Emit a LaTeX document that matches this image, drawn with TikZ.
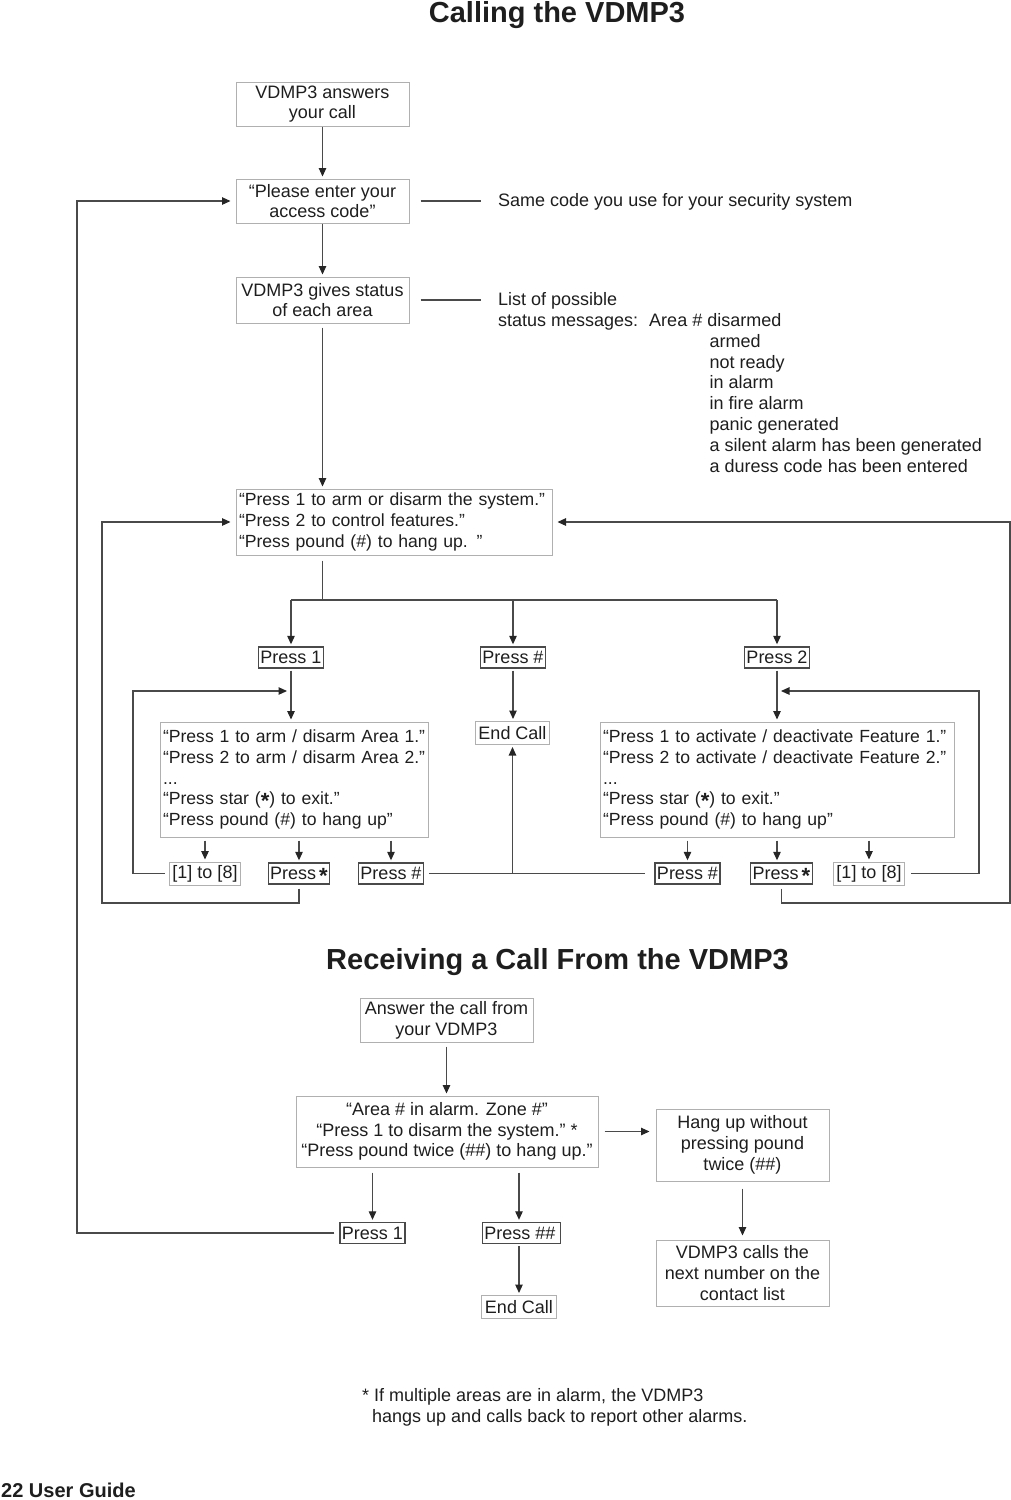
\documentclass[tikz,border=0pt]{standalone}
\usepackage{fontspec}
\setmainfont{Liberation Sans}
\usetikzlibrary{arrows.meta}
\definecolor{boxgray}{HTML}{B0B0B0}
\definecolor{linegray}{HTML}{4A4A4A}
\definecolor{txt}{HTML}{1E1E1E}
\newcommand{\keystar}{\smash{\raisebox{-4pt}{\fontsize{22}{22}\selectfont\bfseries *}}}
\newcommand{\menuline}[1]{\mbox{#1}}
\begin{document}
\begin{tikzpicture}[x=1pt,y=-1pt,
  every node/.style={text=txt, font=\fontsize{18}{20.8}\selectfont},
  txtnode/.style={inner sep=0pt, anchor=base west},
  bigbox/.style={draw=boxgray, line width=1pt, inner sep=0pt, align=center},
  menubox/.style={draw=boxgray, line width=1pt, inner xsep=3pt, inner ysep=0pt, align=left, font=\fontsize{17.6}{20.8}\selectfont},
  keybox/.style={draw=linegray, line width=1.4pt, inner xsep=2pt, inner ysep=0pt, minimum height=21pt},
  lightkey/.style={draw=boxgray, line width=1pt, inner xsep=3pt, inner ysep=0pt, minimum height=23pt},
  conn/.style={draw=linegray, line width=1.1pt},
  arr/.style={conn, -{Triangle[length=8.5pt,width=7.5pt,color=black!85]}},
  titlefont/.style={font=\bfseries\fontsize{29}{32}\selectfont, inner sep=0pt, anchor=base}
]
\useasboundingbox (0,0) rectangle (1011,1500);

% ---------- Calling the VDMP3 ----------
\node[titlefont] (T1) at (557,22) {Calling the VDMP3};

\node[bigbox, minimum width=173pt, minimum height=44pt] (A) at (322.5,104) {VDMP3 answers\\your call};
\node[bigbox, minimum width=173pt, minimum height=44pt] (B) at (322.5,201) {“Please enter your\\access code"};
\node[bigbox, minimum width=173pt, minimum height=46pt] (C) at (322.5,300) {VDMP3 gives status\\of each area};

\node[txtnode] (same) at (498,206.5) {Same code you use for your security system};
\node[txtnode] (list1) at (498,305.5) {List of possible};
\node[txtnode] (list2) at (498,326.5) {status messages:\hspace{11pt}Area \# disarmed};
\foreach [count=\i] \t in {armed,not ready,in alarm,in fire alarm,panic generated,a silent alarm has been generated,a duress code has been entered}
  \node[txtnode] (st\i) at (709.5,{326.5+20.8*\i}) {\t};

\draw[conn] ([xshift=11pt]B.east) -- ([xshift=-17pt]B.east -| same.west);
\draw[conn] ([xshift=11pt]C.east) -- ([xshift=-17pt]C.east -| list1.west);

\node[menubox, minimum height=66pt, text width=310pt] (D) at (394,522)
  {\menuline{“Press 1 to arm or disarm the system."}\\\menuline{“Press 2 to control features."}\\\menuline{“Press pound (\#) to hang up. "}};

\draw[arr, shorten >=2pt] (A) -- (B);
\draw[arr, shorten >=2pt] (B) -- (C);
\draw[arr, shorten <=4pt, shorten >=2pt] (C) -- (C.south |- D.north);

\coordinate (split) at (322.5,600);
\draw[conn, shorten <=5pt] (C.south |- D.south) -- (split);

\node[keybox] (P1) at (291,657.5) {Press 1};
\node[keybox] (PH) at (513,657.5) {Press \#};
\node[keybox] (P2) at (777,657.5) {Press 2};
\draw[conn] (split -| P1) -- (split -| P2);
\draw[arr, shorten >=2pt] (split -| P1) -- (P1);
\draw[arr, shorten >=2pt] (split -| PH) -- (PH);
\draw[arr, shorten >=2pt] (split -| P2) -- (P2);

\node[menubox, minimum height=115pt, text width=262pt] (E1) at (294,779.5)
  {\menuline{“Press 1 to arm / disarm Area 1."}\\\menuline{“Press 2 to arm / disarm Area 2."}\\...\\\menuline{“Press star (\keystar) to exit."}\\\menuline{“Press pound (\#) to hang up"}};
\node[menubox, minimum height=115pt, text width=348pt] (E2) at (777,779.5)
  {\menuline{“Press 1 to activate / deactivate Feature 1."}\\\menuline{“Press 2 to activate / deactivate Feature 2."}\\...\\\menuline{“Press star (\keystar) to exit."}\\\menuline{“Press pound (\#) to hang up"}};
\node[lightkey] (EC1) at (512.5,733) {End Call};

\draw[arr, shorten <=2pt, shorten >=2pt] (P1) -- (P1 |- E1.north);
\draw[arr, shorten <=2pt, shorten >=2pt] (PH) -- (PH |- EC1.north);
\draw[arr, shorten <=2pt, shorten >=2pt] (P2) -- (P2 |- E2.north);

\node[lightkey] (K1) at (205,873.5) {[1] to [8]};
\node[keybox] (S1) at (299,873.5) {Press\,\keystar};
\node[keybox] (H1) at (391,873.5) {Press \#};
\node[keybox] (H2) at (687.5,873.5) {Press \#};
\node[keybox] (S2) at (781.5,873.5) {Press\,\keystar};
\node[lightkey] (K2) at (869,873.5) {[1] to [8]};

\draw[arr, shorten <=3pt, shorten >=2pt] (K1 |- E1.south) -- (K1);
\draw[arr, shorten <=3pt, shorten >=2pt] (S1 |- E1.south) -- (S1);
\draw[arr, shorten <=3pt, shorten >=2pt] (H1 |- E1.south) -- (H1);
\draw[arr, shorten <=3pt, shorten >=2pt] (H2 |- E2.south) -- (H2);
\draw[arr, shorten <=3pt, shorten >=2pt] (E2.south) -- (E2.south |- S2.north);
\draw[arr, shorten <=3pt, shorten >=2pt] (K2 |- E2.south) -- (K2);

% feedback loops [1] to [8]
\coordinate (fbL) at (133,691);
\draw[arr, shorten <=4pt, shorten >=4pt] (K1.west) -- (K1.west -| fbL) -- (fbL) -- (fbL -| P1);
\coordinate (fbR) at (979,691);
\draw[arr, shorten <=6pt, shorten >=4pt] (K2.east) -- (K2.east -| fbR) -- (fbR) -- (fbR -| P2);

% star loops back to main menu
\coordinate (lpL) at (102,903);
\draw[arr, shorten <=4pt, shorten >=5pt] (S1.south) -- (S1.south |- lpL) -- (lpL) -- (lpL |- D.west) -- (D.west);
\coordinate (lpR) at (1010,903);
\draw[arr, shorten <=4pt, shorten >=5pt] (S2.south) -- (S2.south |- lpR) -- (lpR) -- (lpR |- D.east) -- (D.east);

% pound -> End Call
\draw[conn, shorten <=5pt, shorten >=9pt] (H1.east) -- (H2.west);
\draw[arr, shorten >=2pt] (EC1 |- H1) -- (EC1);

% ---------- Receiving a Call ----------
\node[titlefont] (T2) at (557.5,969) {Receiving a Call From the VDMP3};

\node[bigbox, minimum width=173pt, minimum height=44pt] (F) at (446.5,1020) {Answer the call from\\your VDMP3};
\node[bigbox, minimum width=302pt, minimum height=71pt] (G) at (447,1131.5)
  {“Area \# in alarm. Zone \#"\\“Press 1 to disarm the system." *\\“Press pound twice (\#\#) to hang up."};
\node[bigbox, minimum width=173pt, minimum height=72pt] (H) at (742.5,1145) {Hang up without\\pressing pound\\twice (\#\#)};
\node[bigbox, minimum width=173pt, minimum height=66pt] (I) at (742.5,1273) {VDMP3 calls the\\next number on the\\contact list};
\node[keybox] (BP1) at (372.5,1233) {Press 1};
\node[keybox] (BP2) at (521.5,1233) {Press \#\#\,};
\node[lightkey] (EC2) at (519,1307) {End Call};

\draw[arr, shorten <=4pt, shorten >=2pt] (F) -- (F |- G.north);
\draw[arr, shorten <=6pt, shorten >=6pt] (G.east) -- (G.east -| H.west);
\draw[arr, shorten <=7pt, shorten >=4pt] (H) -- (I);
\draw[arr, shorten <=5pt, shorten >=2pt] (BP1 |- G.south) -- (BP1);
\draw[arr, shorten <=5pt, shorten >=2pt] (EC2 |- G.south) -- (EC2 |- BP2.north);
\draw[arr, shorten <=2pt, shorten >=2pt] (EC2 |- BP2.south) -- (EC2);

\coordinate (ret) at (77,1233);
\draw[arr, shorten <=5pt, shorten >=5pt] (BP1.west) -- (ret) -- (ret |- B.west) -- (B.west);

% footnote and footer
\node[txtnode] (fn1) at (362,1401.5) {* If multiple areas are in alarm, the VDMP3};
\node[txtnode] (fn2) at (372,1422) {hangs up and calls back to report other alarms.};
\node[txtnode, font=\bfseries\fontsize{20}{22}\selectfont] (foot) at (1,1497) {22 User Guide};
\end{tikzpicture}
\end{document}
